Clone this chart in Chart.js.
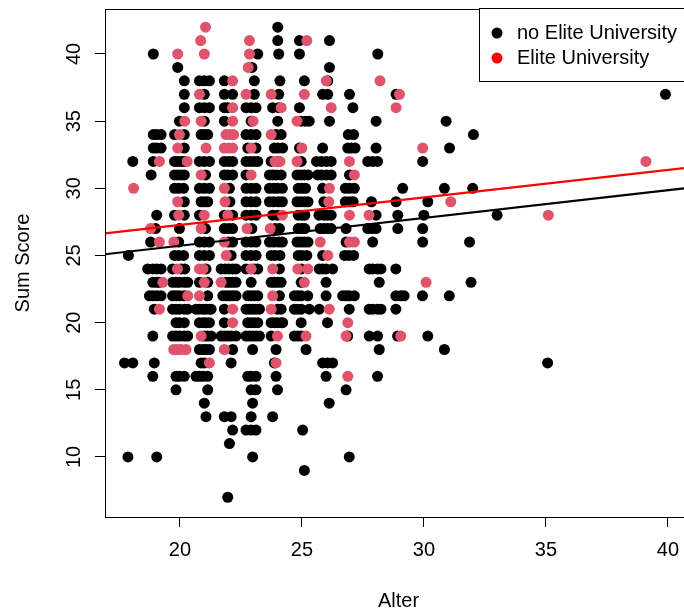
<!DOCTYPE html>
<html>
<head>
<meta charset="utf-8">
<script src="https://cdn.jsdelivr.net/npm/chart.js@4"></script>
<style>
  html, body { margin: 0; padding: 0; background: #fff; }
  #wrap { width: 684px; height: 612px; }
</style>
</head>
<body>
<div id="wrap"><canvas id="chart" width="684" height="612"></canvas></div>
<script>
// [Alter, Sum Score]
const noElitePoints = [
  [24.01,42],
  [24.01,41],[24.9,41],[26.13,41],
  [18.91,40],[23.19,40],[24.05,40],[24.9,40],[28.11,40],
  [19.91,39],[22.95,39],[26.13,39],
  [20.18,38],[20.8,38],[21.0,38],[21.21,38],[21.82,38],[23.05,38],[24.1,38],[25.1,38],[26.06,38],
  [20.18,37],[21.0,37],[21.82,37],[22.16,37],[23.05,37],[24.05,37],[25.85,37],[26.06,37],[26.95,37],[28.86,37],
  [20.18,36],[20.8,36],[21.0,36],[21.21,36],[21.82,36],[21.96,36],[22.71,36],[22.92,36],[23.12,36],[23.8,36],[24.05,36],[24.9,36],[27.09,36],
  [19.98,35],[21.0,35],[21.82,35],[22.92,35],[24.01,35],[24.97,35],[25.15,35],[25.3,35],[26.13,35],[28.04,35],[30.91,35],
  [18.91,34],[19.05,34],[19.23,34],[19.78,34],[20.18,34],[20.87,34],[21.0,34],[21.14,34],[22.71,34],[22.92,34],[23.12,34],[23.94,34],[24.15,34],[26.9,34],[27.12,34],[32.03,34],
  [18.91,33],[19.05,33],[19.23,33],[20.18,33],[22.78,33],[23.12,33],[23.87,33],[24.01,33],[24.21,33],[24.9,33],[25.85,33],[26.88,33],[27.02,33],[27.18,33],[28.04,33],[31.05,33],
  [18.07,32],[18.91,32],[19.78,32],[19.91,32],[20.05,32],[20.18,32],[20.8,32],[21.0,32],[21.21,32],[21.82,32],[22.0,32],[22.16,32],[22.71,32],[22.88,32],[23.05,32],[23.19,32],[23.74,32],[24.05,32],[24.97,32],[25.6,32],[25.8,32],[26.0,32],[26.2,32],[27.7,32],[27.9,32],[28.1,32],[29.95,32],
  [18.82,31],[19.78,31],[19.91,31],[20.05,31],[20.18,31],[21.05,31],[21.82,31],[21.96,31],[22.16,31],[22.71,31],[23.67,31],[23.8,31],[23.95,31],[24.15,31],[24.8,31],[24.95,31],[25.1,31],[25.25,31],[25.65,31],[25.8,31],[26.0,31],[26.2,31],[26.95,31],
  [19.78,30],[19.95,30],[20.15,30],[20.8,30],[21.0,30],[21.21,30],[22.03,30],[22.71,30],[22.92,30],[23.12,30],[23.67,30],[23.85,30],[24.0,30],[24.2,30],[24.85,30],[25.0,30],[25.15,30],[25.85,30],[26.78,30],[26.95,30],[27.15,30],[29.13,30],[30.84,30],[32.0,30],
  [20.18,29],[20.87,29],[21.0,29],[21.14,29],[22.05,29],[22.71,29],[22.92,29],[23.12,29],[23.67,29],[23.85,29],[24.05,29],[24.2,29],[24.8,29],[24.95,29],[25.1,29],[25.25,29],[25.9,29],[26.78,29],[26.95,29],[27.1,29],[27.85,29],[28.86,29],[30.16,29],
  [19.05,28],[19.78,28],[20.18,28],[20.8,28],[21.82,28],[22.16,28],[22.71,28],[22.92,28],[23.12,28],[23.8,28],[24.0,28],[24.85,28],[25.0,28],[25.12,28],[25.7,28],[25.9,28],[26.05,28],[26.2,28],[28.04,28],[28.93,28],[30.0,28],[33.0,28],
  [19.0,27],[19.98,27],[21.05,27],[21.82,27],[22.0,27],[22.16,27],[22.95,27],[23.9,27],[24.08,27],[24.85,27],[25.0,27],[25.12,27],[25.75,27],[25.9,27],[26.05,27],[26.2,27],[26.81,27],[27.7,27],[27.85,27],[28.04,27],[28.93,27],[29.95,27],
  [18.8,26],[19.95,26],[20.8,26],[21.0,26],[21.21,26],[22.0,26],[22.16,26],[22.71,26],[22.92,26],[23.12,26],[23.67,26],[23.85,26],[24.05,26],[24.2,26],[24.8,26],[24.95,26],[25.1,26],[25.25,26],[26.81,26],[27.9,26],[29.95,26],[31.87,26],
  [17.89,25],[19.78,25],[19.95,25],[20.15,25],[20.8,25],[21.0,25],[21.21,25],[22.1,25],[22.71,25],[22.92,25],[23.12,25],[23.74,25],[23.9,25],[24.1,25],[24.85,25],[25.0,25],[25.2,25],[25.85,25],[26.75,25],[26.92,25],[27.12,25],
  [18.68,24],[18.89,24],[19.05,24],[19.23,24],[19.7,24],[20.05,24],[20.2,24],[21.07,24],[21.69,24],[21.85,24],[22.0,24],[22.16,24],[22.3,24],[22.71,24],[23.05,24],[23.19,24],[24.08,24],[24.97,24],[25.71,24],[25.85,24],[25.99,24],[26.26,24],[27.76,24],[27.9,24],[28.1,24],[28.24,24],[28.85,24],
  [18.89,23],[19.05,23],[19.16,23],[19.7,23],[19.84,23],[19.98,23],[20.18,23],[20.32,23],[20.8,23],[21.14,23],[21.9,23],[22.03,23],[22.16,23],[22.3,23],[22.92,23],[23.74,23],[23.87,23],[24.0,23],[24.15,23],[24.97,23],[25.99,23],[28.17,23],[31.93,23],
  [18.75,22],[18.89,22],[19.05,22],[19.23,22],[19.7,22],[19.84,22],[19.98,22],[20.18,22],[21.14,22],[21.76,22],[21.9,22],[22.03,22],[22.16,22],[22.3,22],[22.78,22],[22.92,22],[23.05,22],[23.19,22],[24.08,22],[24.69,22],[24.83,22],[24.97,22],[25.24,22],[25.99,22],[26.67,22],[26.81,22],[26.94,22],[27.15,22],[28.85,22],[29.05,22],[29.19,22],[29.94,22],[31.04,22],
  [18.95,21],[19.7,21],[19.84,21],[19.98,21],[20.18,21],[20.32,21],[20.66,21],[20.8,21],[20.95,21],[21.07,21],[21.21,21],[21.28,21],[21.82,21],[22.71,21],[22.85,21],[22.98,21],[23.12,21],[23.26,21],[24.0,21],[24.15,21],[24.69,21],[24.83,21],[24.97,21],[25.3,21],[25.71,21],[26.94,21],[27.76,21],[27.9,21],[28.1,21],[28.24,21],[28.85,21],
  [19.84,20],[19.98,20],[20.18,20],[20.8,20],[20.95,20],[21.07,20],[21.21,20],[21.82,20],[22.78,20],[22.92,20],[23.05,20],[23.19,20],[23.74,20],[23.87,20],[24.0,20],[24.15,20],[24.21,20],[24.97,20],[26.05,20],
  [18.89,19],[19.7,19],[19.84,19],[19.98,19],[20.18,19],[20.32,19],[21.0,19],[21.14,19],[21.28,19],[21.69,19],[21.82,19],[21.96,19],[22.1,19],[22.3,19],[22.71,19],[22.85,19],[22.98,19],[23.12,19],[23.26,19],[23.74,19],[24.69,19],[24.83,19],[24.97,19],[26.88,19],[27.76,19],[28.1,19],[28.92,19],[30.16,19],
  [20.8,18],[20.95,18],[21.07,18],[21.21,18],[22.16,18],[22.98,18],[23.94,18],[25.17,18],[28.17,18],[30.84,18],
  [17.73,17],[18.07,17],[18.95,17],[20.87,17],[21.0,17],[22.1,17],[23.87,17],[25.85,17],[26.05,17],[26.26,17],[35.07,17],
  [18.89,16],[19.84,16],[19.98,16],[20.18,16],[20.66,16],[20.8,16],[20.95,16],[21.14,16],[22.78,16],[22.92,16],[23.12,16],[23.94,16],[25.99,16],[28.1,16],
  [19.84,15],[21.14,15],[22.92,15],[23.12,15],[24.0,15],[26.81,15],
  [21.0,14],[22.98,14],[26.12,14],
  [21.07,13],[21.82,13],[22.1,13],[22.92,13],[23.8,13],
  [22.16,12],[22.71,12],[22.92,12],[23.12,12],[25.03,12],
  [22.03,11],
  [17.87,10],[19.05,10],[22.98,10],[26.94,10],
  [25.1,9],
  [21.96,7],
  [39.9,37]
];

const elitePoints = [
  [21.05,42],
  [20.85,41],[22.85,41],[25.2,41],
  [19.91,40],[21.0,40],[22.85,40],
  [22.8,39],
  [22.16,38],[26.0,38],[28.2,38],
  [20.8,37],[22.71,37],[23.74,37],[25.1,37],[29.0,37],
  [22.16,36],[24.15,36],[26.2,36],[28.86,36],
  [20.2,35],[20.87,35],[22.16,35],[23.0,35],[24.8,35],
  [19.98,34],[21.89,34],[22.05,34],[22.2,34],[23.74,34],
  [19.91,33],[21.07,33],[21.82,33],[22.0,33],[22.16,33],[22.92,33],[25.0,33],[29.95,33],
  [19.16,32],[20.3,32],[23.9,32],[24.1,32],[24.8,32],[26.95,32],
  [20.87,31],[22.92,31],[27.15,31],
  [18.1,30],[21.82,30],[26.13,30],
  [19.91,29],[21.85,29],[26.1,29],[31.1,29],
  [19.95,28],[21.0,28],[21.96,28],[24.2,28],[26.95,28],[27.75,28],[35.1,28],
  [18.8,27],[20.87,27],[22.75,27],[23.7,27],
  [19.16,26],[19.75,26],[21.82,26],[25.75,26],[26.95,26],[27.15,26],
  [21.9,25],[26.06,25],
  [19.9,24],[20.8,24],[20.95,24],[22.92,24],[23.8,24],[24.83,24],[25.24,24],
  [19.3,23],[21.0,23],[21.69,23],[25.1,23],[30.09,23],
  [20.32,22],[20.8,22],[23.8,22],
  [19.16,21],[22.16,21],[23.74,21],[26.12,21],
  [22.16,20],[26.88,20],
  [20.87,19],[24.0,19],[25.17,19],[26.81,19],[29.05,19],
  [19.75,18],[19.9,18],[20.05,18],[20.25,18],[21.82,18],
  [21.21,17],[23.94,17],
  [26.88,16],
  [39.1,32]
];

// regression lines, ends at the plot edges
const lineAlter = [16.93, 40.66];
const noEliteLine = [25.09, 30.0];
const eliteLine = [26.64, 31.5];

const xTicks = [20, 25, 30, 35, 40];
const yTicks = [10, 15, 20, 25, 30, 35, 40];
const legendLabels = ['no Elite University', 'Elite University'];
const legendColors = ['#000000', '#ff0000'];

const FONT = '"Liberation Sans", Arial, Helvetica, sans-serif';

const toXY = pts => pts.map(p => ({ x: p[0], y: p[1] }));

const rBase = {
  id: 'rBase',
  afterDraw(chart) {
    const ctx = chart.ctx;
    const a = chart.chartArea;
    const x = chart.scales.x, y = chart.scales.y;
    ctx.save();
    // plot box (top + left, right side runs off the image)
    ctx.strokeStyle = '#000';
    ctx.lineWidth = 1;
    ctx.beginPath();
    ctx.moveTo(a.left + 0.5, a.bottom);
    ctx.lineTo(a.left + 0.5, a.top + 0.5);
    ctx.lineTo(a.right + 10, a.top + 0.5);
    ctx.stroke();

    ctx.fillStyle = '#000';
    ctx.font = '20px ' + FONT;
    ctx.textAlign = 'center';
    ctx.textBaseline = 'middle';
    // y tick labels, rotated like R
    yTicks.forEach(v => {
      ctx.save();
      ctx.translate(74, y.getPixelForValue(v));
      ctx.rotate(-Math.PI / 2);
      ctx.fillText(String(v), 0, 0);
      ctx.restore();
    });
    // x tick labels
    xTicks.forEach(v => ctx.fillText(String(v), x.getPixelForValue(v), 550));
    // axis titles
    ctx.fillText('Alter', (a.left + 684) / 2 + 4, 601);
    ctx.save();
    ctx.translate(23, (a.top + a.bottom) / 2);
    ctx.rotate(-Math.PI / 2);
    ctx.fillText('Sum Score', 0, 0);
    ctx.restore();

    // legend
    ctx.fillStyle = '#fff';
    ctx.fillRect(479.5, a.top - 0.5, 220, 73);
    ctx.strokeRect(479.5, a.top - 0.5, 220, 73);
    ctx.textAlign = 'left';
    legendLabels.forEach((lab, i) => {
      const ly = a.top + 24 + i * 25;
      ctx.fillStyle = legendColors[i];
      ctx.beginPath();
      ctx.arc(497, ly, 5.5, 0, Math.PI * 2);
      ctx.fill();
      ctx.fillStyle = '#000';
      ctx.fillText(lab, 517, ly);
    });
    ctx.restore();
  }
};

new Chart(document.getElementById('chart'), {
  type: 'scatter',
  data: {
    datasets: [
      {
        label: 'no Elite line',
        type: 'line',
        data: lineAlter.map((v, i) => ({ x: v, y: noEliteLine[i] })),
        borderColor: '#000000',
        borderWidth: 2.2,
        pointRadius: 0,
        order: 0
      },
      {
        label: 'Elite line',
        type: 'line',
        data: lineAlter.map((v, i) => ({ x: v, y: eliteLine[i] })),
        borderColor: '#ff0000',
        borderWidth: 2.2,
        pointRadius: 0,
        order: 0
      },
      {
        label: legendLabels[1],
        data: toXY(elitePoints),
        backgroundColor: '#df536b',
        pointRadius: 5.5,
        pointBorderWidth: 0,
        order: 1
      },
      {
        label: legendLabels[0],
        data: toXY(noElitePoints),
        backgroundColor: '#000000',
        pointRadius: 5.5,
        pointBorderWidth: 0,
        order: 2
      }
    ]
  },
  options: {
    responsive: false,
    animation: false,
    devicePixelRatio: 1,
    layout: { autoPadding: false, padding: { top: 9, left: 0, right: 0, bottom: 0 } },
    plugins: { legend: { display: false }, tooltip: { enabled: false } },
    scales: {
      x: {
        type: 'linear',
        min: lineAlter[0],
        max: lineAlter[1],
        afterBuildTicks: s => { s.ticks = xTicks.map(v => ({ value: v })); },
        afterFit: s => { s.height = 95; },
        ticks: { display: false },
        grid: { display: true, drawOnChartArea: false, drawTicks: true, tickLength: 10, color: '#000', lineWidth: 1 },
        border: { display: true, color: '#000', width: 1 }
      },
      y: {
        type: 'linear',
        min: 5.53,
        max: 43.35,
        afterBuildTicks: s => { s.ticks = yTicks.map(v => ({ value: v })); },
        afterFit: s => { s.width = 105; },
        ticks: { display: false },
        grid: { display: true, drawOnChartArea: false, drawTicks: true, tickLength: 10, color: '#000', lineWidth: 1 },
        border: { display: true, color: '#000', width: 1 }
      }
    }
  },
  plugins: [rBase]
});
</script>
</body>
</html>
